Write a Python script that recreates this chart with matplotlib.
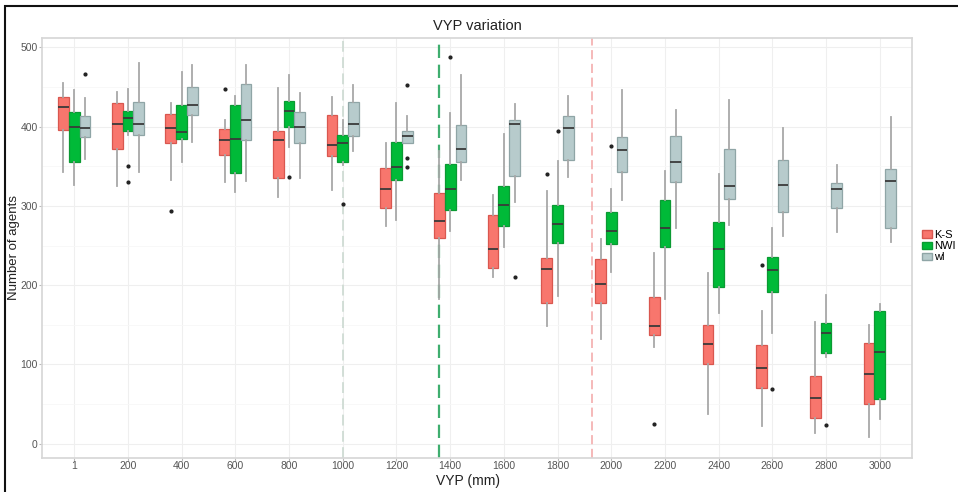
import matplotlib
matplotlib.use("Agg")
import matplotlib.pyplot as plt
from matplotlib.patches import Patch, Rectangle

plt.rcParams["font.family"] = ["Liberation Sans", "DejaVu Sans"]

vyp = ["1", "200", "400", "600", "800", "1000", "1200", "1400",
       "1600", "1800", "2000", "2200", "2400", "2600", "2800", "3000"]

# K-S
ks_low = [343, 325, 333, 330, 311, 320, 275, 183, 210, 149, 132, 122, 37, 23, 14, 8]
ks_q1 = [396, 372, 380, 364, 335, 363, 298, 260, 222, 177, 177, 137, 101, 70, 32, 50]
ks_med = [425, 404, 399, 383, 383, 377, 322, 281, 246, 220, 201, 149, 126, 96, 58, 88]
ks_q3 = [437, 430, 416, 397, 395, 415, 348, 317, 289, 234, 233, 185, 150, 125, 86, 127]
ks_high = [455, 444, 430, 409, 449, 437, 380, 369, 314, 319, 258, 241, 215, 167, 154, 150]
ks_out = {"400": [294], "600": [447], "1800": [340], "2200": [25], "2600": [226]}

# NWI
nwi_low = [327, 390, 355, 318, 374, 352, 282, 269, 248, 186, 217, 183, 165, 140, 109, 31]
nwi_q1 = [355, 395, 385, 342, 400, 356, 333, 295, 275, 253, 252, 248, 198, 191, 115, 56]
nwi_med = [400, 411, 393, 384, 420, 379, 349, 322, 301, 277, 269, 272, 246, 219, 140, 116]
nwi_q3 = [418, 420, 427, 427, 432, 390, 381, 353, 325, 301, 292, 307, 280, 236, 152, 168]
nwi_high = [446, 448, 469, 439, 465, 409, 430, 417, 391, 357, 321, 344, 340, 272, 188, 176]
nwi_out = {"200": [351, 330], "800": [336], "1000": [302], "1400": [488],
           "1800": [395], "2000": [376], "2600": [69], "2800": [24]}

# wl
wl_low = [359, 343, 381, 332, 335, 370, 380, 333, 305, 336, 307, 272, 276, 262, 267, 254]
wl_q1 = [387, 389, 415, 383, 379, 388, 380, 355, 338, 358, 343, 330, 309, 293, 297, 272]
wl_med = [399, 404, 427, 408, 400, 403, 388, 372, 404, 399, 371, 356, 325, 327, 322, 332]
wl_q3 = [413, 431, 450, 454, 418, 431, 395, 402, 408, 413, 387, 388, 372, 358, 329, 347]
wl_high = [436, 481, 478, 478, 443, 453, 414, 465, 429, 439, 446, 421, 434, 399, 352, 412]
wl_out = {"1": [467], "1200": [453, 360, 349], "1600": [211]}

series = [
    ("K-S", "#F8766D", "#d9574f", ks_low, ks_q1, ks_med, ks_q3, ks_high, ks_out),
    ("NWI", "#00BA38", "#0b9a33", nwi_low, nwi_q1, nwi_med, nwi_q3, nwi_high, nwi_out),
    ("wl", "#B7CBCC", "#8fa5a6", wl_low, wl_q1, wl_med, wl_q3, wl_high, wl_out),
]

# vertical reference lines (category units) and colours
vlines = [(6.0, "#cfdcd4", 1.3), (7.8, "#3fae6f", 1.6), (10.65, "#f3a6a6", 1.1)]

fig = plt.figure(figsize=(9.58, 4.92), dpi=100)
ax = fig.add_axes([0.0438, 0.0691, 0.9082, 0.8537])

ax.set_xlim(0.4, 16.6)
ax.set_ylim(-18, 512)
ax.set_yticks([0, 100, 200, 300, 400, 500])
ax.set_yticks([50, 150, 250, 350, 450], minor=True)
ax.set_xticks(range(1, len(vyp) + 1))
ax.set_xticklabels(vyp)
ax.grid(True, which="major", color="#efefef", lw=0.8)
ax.grid(True, which="minor", axis="y", color="#f7f7f7", lw=0.6)
ax.set_axisbelow(True)
for s in ax.spines.values():
    s.set_color("#d6d6d6")
    s.set_linewidth(1.2)
ax.tick_params(axis="both", which="major", length=2, color="#bbbbbb",
               labelsize=7.5, labelcolor="#555555", pad=1)
ax.tick_params(axis="x", which="major", pad=0.5)
ax.tick_params(axis="both", which="minor", length=0)

for x, c, lw in vlines:
    ax.axvline(x, color=c, lw=lw, ls=(0, (6, 3)), zorder=1)

offsets = [-0.2, 0.0, 0.2]
for (name, fill, edge, lo, q1, med, q3, hi, out), off in zip(series, offsets):
    stats = []
    for i, cat in enumerate(vyp):
        stats.append({"whislo": lo[i], "q1": q1[i], "med": med[i], "q3": q3[i],
                      "whishi": hi[i], "fliers": out.get(cat, [])})
    pos = [i + 1 + off for i in range(len(vyp))]
    ax.bxp(stats, positions=pos, widths=0.2, patch_artist=True,
           showcaps=False, manage_ticks=False,
           boxprops=dict(facecolor=fill, edgecolor=edge, lw=0.9),
           medianprops=dict(color="#3a3a3a", lw=1.3),
           whiskerprops=dict(color="#a8a8a8", lw=1.3),
           flierprops=dict(marker="o", markersize=2, markerfacecolor="#222222",
                           markeredgecolor="#222222"),
           zorder=3)

ax.set_title("VYP variation", fontsize=10.5, color="#222222", pad=6)
ax.set_xlabel("VYP (mm)", fontsize=10, color="#222222")
ax.xaxis.set_label_coords(0.49, -0.037)
ax.set_ylabel("Number of agents", fontsize=9.5, color="#222222")
ax.yaxis.set_label_coords(-0.025, 0.5)

handles = [Patch(facecolor=f, edgecolor=e, label=n) for n, f, e, *_ in series]
fig.legend(handles=handles, loc="center left", bbox_to_anchor=(0.955, 0.5),
           frameon=False, fontsize=8, handlelength=0.9, handleheight=0.6,
           handletextpad=0.2, labelspacing=0.1, borderpad=0.1)

# outer frame of the screenshot
fig.add_artist(Rectangle((0.0052, -0.01), 1.2, 0.998, transform=fig.transFigure,
                         fill=False, edgecolor="#111111", lw=1.5))

fig.savefig("out.png", dpi=100)
